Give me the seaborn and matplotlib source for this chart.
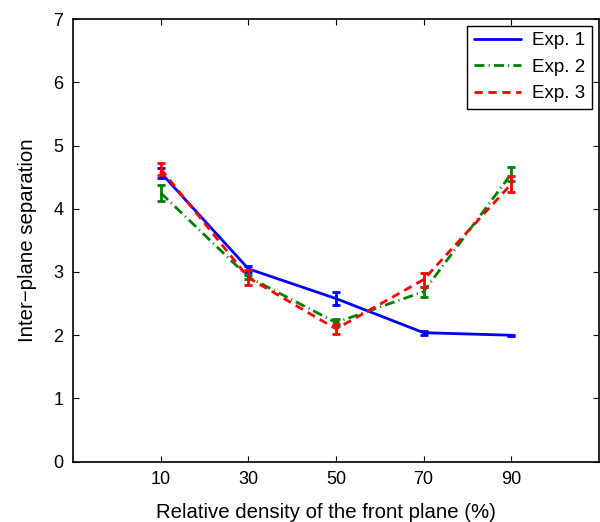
import matplotlib
matplotlib.use("Agg")
import matplotlib.pyplot as plt
import seaborn as sns
import pandas as pd
import numpy as np

# relative density of the front plane (%)
density = [10, 30, 50, 70, 90]

# inter-plane separation per experiment, and error bar half-widths
exp1 = [4.57, 3.05, 2.58, 2.04, 2.00]
exp1_err = [0.08, 0.05, 0.10, 0.03, 0.01]
exp2 = [4.25, 2.92, 2.20, 2.69, 4.55]
exp2_err = [0.12, 0.03, 0.05, 0.08, 0.11]
exp3 = [4.63, 2.91, 2.10, 2.88, 4.39]
exp3_err = [0.10, 0.12, 0.08, 0.11, 0.13]

labels = ["Exp. 1", "Exp. 2", "Exp. 3"]
colors = ["#0000ff", "#008000", "#ff0000"]
dashes = ["-", (0, (3.6, 1.5, 0.4, 1.5)), (0, (3, 2))]

sns.set_style("ticks")
plt.rcParams["font.family"] = ["Liberation Sans", "DejaVu Sans"]
plt.rcParams["text.color"] = "black"
plt.rcParams["axes.labelcolor"] = "black"
plt.rcParams["xtick.color"] = "black"
plt.rcParams["ytick.color"] = "black"

fig = plt.figure(figsize=(6, 5.22), dpi=100)
ax = fig.add_axes([0.122, 0.1155, 0.876, 0.848])

series = [(exp1, exp1_err), (exp2, exp2_err), (exp3, exp3_err)]
for (vals, errs), lab, col, ls in zip(series, labels, colors, dashes):
    df = pd.DataFrame({"density": density, "sep": vals})
    sns.lineplot(data=df, x="density", y="sep", ax=ax, color=col,
                 linestyle=ls, linewidth=2, label=lab)
    ax.errorbar(density, vals, yerr=errs, fmt="none", ecolor=col,
                elinewidth=2, capsize=3, capthick=2)

ax.set_xlim(-10, 110)
ax.set_ylim(0, 7)
ax.set_xticks(density)
ax.set_yticks(range(0, 8))
ax.tick_params(direction="in", top=True, right=True, labelsize=13,
               length=4, width=0.8, pad=7)
for s in ax.spines.values():
    s.set_linewidth(1.2)
    s.set_color("black")

ax.set_xlabel("Relative density of the front plane (%)", fontsize=14.7)
ax.xaxis.set_label_coords(0.481, -0.093)
ax.set_ylabel("Inter\u2212plane separation", fontsize=14.7, labelpad=12)

leg = ax.legend(loc="upper right", fontsize=13.5, frameon=True, fancybox=False,
                bbox_to_anchor=(0.987, 0.985), borderaxespad=0,
                handlelength=2.5, labelspacing=0.5,
                borderpad=0.35, handletextpad=0.6)
leg.get_frame().set_edgecolor("black")
leg.get_frame().set_linewidth(1.0)
leg.get_frame().set_alpha(1)

fig.savefig("out.png", dpi=100)
plt.close(fig)
